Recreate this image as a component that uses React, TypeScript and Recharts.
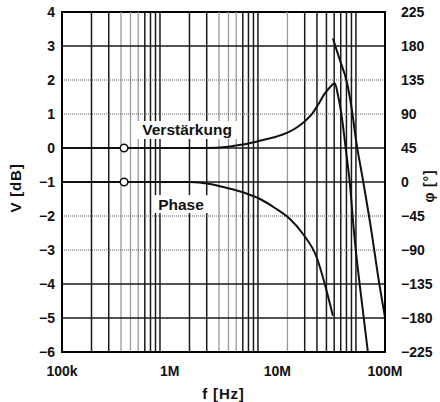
import React from "react";
import {
  ComposedChart,
  Line,
  XAxis,
  YAxis,
  ReferenceLine,
  ReferenceDot,
  ReferenceArea,
} from "recharts";

// frame of the plot [Hz] (grid decades are narrower than the label spacing)
const fMin = 1e5;
const fMax = 1.98e8;

// x axis labels, spread evenly over the frame
const fTickLabels = ["100k", "1M", "10M", "100M"];

// Verstärkung (gain) in dB
const gainF = [1e5, 4.3e5, 3.0e6, 5e6, 7e6, 10e6, 14e6, 20e6, 26e6, 31e6, 36e6, 41e6, 48e6, 54e6, 58e6, 61e6, 65.5e6, 72e6, 79e6, 87e6, 95.5e6, 112.5e6, 132.5e6];
const gainV = [0, 0, 0, 0.04, 0.1, 0.2, 0.3, 0.45, 0.64, 0.82, 1.02, 1.27, 1.6, 1.78, 1.87, 1.9, 1.56, 0.88, -0.06, -1.09, -2.47, -4.32, -6.0];

// Phase in degrees, before the wrap at -180°
const phaseF1 = [1e5, 4.3e5, 2.0e6, 3.24e6, 4.83e6, 7.37e6, 10.5e6, 14.9e6, 21.2e6, 28.8e6, 40e6, 48.3e6, 58.2e6];
const phaseP1 = [0, 0, 0, -2.6, -7.9, -14.6, -22.5, -34.4, -49, -68.8, -100.6, -136, -177];
// ... and after it
const phaseF2 = [58.2e6, 68.7e6, 80.9e6, 91e6, 100e6, 117.8e6, 145.5e6, 167.5e6, 1.98e8];
const phaseP2 = [190, 161, 132, 95, 56, 3, -69, -123, -179];

const vTicks = [-6, -5, -4, -3, -2, -1, 0, 1, 2, 3, 4];
const phiTicks = [-225, -180, -135, -90, -45, 0, 45, 90, 135, 180, 225];

// grid
const gridDecades = [1e5, 1e6, 1e7];
const gridMult = [2, 3, 4, 5, 6, 7, 8, 9, 10];
const solidV = [3, 0, -1, -4, -5];
const dottedV = [2, 1, -2, -3];

const markerF = 4.3e5;

const gainData = gainF.map((f, i) => ({ f, v: gainV[i] }));
const phaseData1 = phaseF1.map((f, i) => ({ f, p: phaseP1[i] }));
const phaseData2 = phaseF2.map((f, i) => ({ f, p: phaseP2[i] }));

// label ticks sit evenly across the frame, like in the original figure
const fTicks = fTickLabels.map((_, i) => fMin * Math.pow(fMax / fMin, i / (fTickLabels.length - 1)));

const FONT = '"Liberation Sans", Arial, Helvetica, sans-serif';
const tickStyle = { fontFamily: FONT, fontWeight: 700, fontSize: 14, fill: "#111" };
const titleStyle = { fontFamily: FONT, fontWeight: 700, fontSize: 15, fill: "#111", letterSpacing: 0.8 };
const minus = (v: number) => String(v).replace("-", "\u2212");

const BoxLabel = ({ cx, cy, text, w }: any) => (
  <g>
    <rect x={cx - w / 2} y={cy - 9} width={w} height={18} fill="#fff" />
    <text
      x={cx}
      y={cy}
      textAnchor="middle"
      dominantBaseline="central"
      style={{ fontFamily: FONT, fontWeight: 700, fontSize: 15.5, fill: "#111" }}
    >
      {text}
    </text>
  </g>
);

export default function App() {
  const vLines: { f: number; light: boolean }[] = [];
  gridDecades.forEach((d, di) =>
    gridMult.forEach((m) => {
      const light = di < 2 ? m >= 4 && m <= 6 : m === 2;
      vLines.push({ f: d * m, light });
    })
  );

  return (
    <div style={{ position: "absolute", left: 0, top: 0, background: "#fff" }}>
      <ComposedChart width={440} height={402} margin={{ top: 12, right: 0, bottom: 0, left: 0 }}>
        <XAxis
          xAxisId="f"
          dataKey="f"
          type="number"
          scale="log"
          domain={[fMin, fMax]}
          allowDataOverflow
          ticks={fTicks}
          interval={0}
          height={50}
          tickLine={false}
          tickSize={0}
          tickMargin={14}
          axisLine={{ stroke: "#000", strokeWidth: 2 }}
          tick={tickStyle}
          tickFormatter={(_v: number, i: number) => fTickLabels[i] ?? ""}
          label={{
            content: ({ viewBox }: any) => (
              <text
                x={viewBox.x + viewBox.width / 2}
                y={viewBox.y + 41}
                textAnchor="middle"
                dominantBaseline="central"
                style={titleStyle}
              >
                f [Hz]
              </text>
            ),
          }}
        />
        <YAxis
          yAxisId="v"
          type="number"
          domain={[-6, 4]}
          ticks={vTicks}
          interval={0}
          width={62}
          tickLine={false}
          tickSize={0}
          tickMargin={7}
          axisLine={{ stroke: "#000", strokeWidth: 2 }}
          tick={tickStyle}
          tickFormatter={minus}
          label={{
            content: () => (
              <text
                x={15}
                y={188}
                transform="rotate(-90 15 188)"
                textAnchor="middle"
                dominantBaseline="central"
                style={titleStyle}
              >
                V [dB]
              </text>
            ),
          }}
        />
        <YAxis
          yAxisId="phi"
          orientation="right"
          type="number"
          domain={[-225, 225]}
          ticks={phiTicks}
          interval={0}
          width={55}
          tickLine={false}
          tickSize={0}
          tickMargin={16}
          axisLine={{ stroke: "#000", strokeWidth: 2 }}
          tick={tickStyle}
          tickFormatter={minus}
          label={{
            content: () => (
              <text
                x={429}
                y={186}
                transform="rotate(-90 429 186)"
                textAnchor="middle"
                dominantBaseline="central"
                style={{ ...titleStyle, fontSize: 14 }}
              >
                φ [°]
              </text>
            ),
          }}
        />

        {vLines.map((g) => (
          <ReferenceLine
            key={`vx-${g.f}`}
            xAxisId="f"
            yAxisId="v"
            x={g.f}
            stroke={g.light ? "#9a9a9a" : "#1a1a1a"}
            strokeWidth={g.light ? 1.3 : 1.5}
          />
        ))}
        {solidV.map((v) => (
          <ReferenceLine key={`hs-${v}`} xAxisId="f" yAxisId="v" y={v} stroke="#1a1a1a" strokeWidth={1.5} />
        ))}
        {dottedV.map((v) => (
          <ReferenceLine
            key={`hd-${v}`}
            xAxisId="f"
            yAxisId="v"
            y={v}
            stroke="#555"
            strokeWidth={1}
            strokeDasharray="1 1"
          />
        ))}
        <ReferenceArea
          xAxisId="f"
          yAxisId="v"
          x1={fMin}
          x2={fMax}
          y1={-6}
          y2={4}
          fill="none"
          stroke="#000"
          strokeWidth={2}
        />

        <Line
          xAxisId="f"
          yAxisId="v"
          data={gainData}
          dataKey="v"
          type="monotone"
          stroke="#111"
          strokeWidth={2}
          dot={false}
          isAnimationActive={false}
        />
        <Line
          xAxisId="f"
          yAxisId="phi"
          data={phaseData1}
          dataKey="p"
          type="monotone"
          stroke="#111"
          strokeWidth={2}
          dot={false}
          isAnimationActive={false}
        />
        <Line
          xAxisId="f"
          yAxisId="phi"
          data={phaseData2}
          dataKey="p"
          type="monotone"
          stroke="#111"
          strokeWidth={2}
          dot={false}
          isAnimationActive={false}
        />

        <ReferenceDot
          xAxisId="f"
          yAxisId="v"
          x={1.89e6}
          y={0.53}
          r={1}
          shape={(p: any) => <BoxLabel cx={p.cx} cy={p.cy} text="Verstärkung" w={100} />}
        />
        <ReferenceDot
          xAxisId="f"
          yAxisId="v"
          x={1.64e6}
          y={-1.65}
          r={1}
          shape={(p: any) => <BoxLabel cx={p.cx} cy={p.cy} text="Phase" w={54} />}
        />
        <ReferenceDot xAxisId="f" yAxisId="v" x={markerF} y={0} r={3.8} fill="#fff" stroke="#111" strokeWidth={1.5} />
        <ReferenceDot xAxisId="f" yAxisId="phi" x={markerF} y={0} r={3.8} fill="#fff" stroke="#111" strokeWidth={1.5} />
      </ComposedChart>
    </div>
  );
}
